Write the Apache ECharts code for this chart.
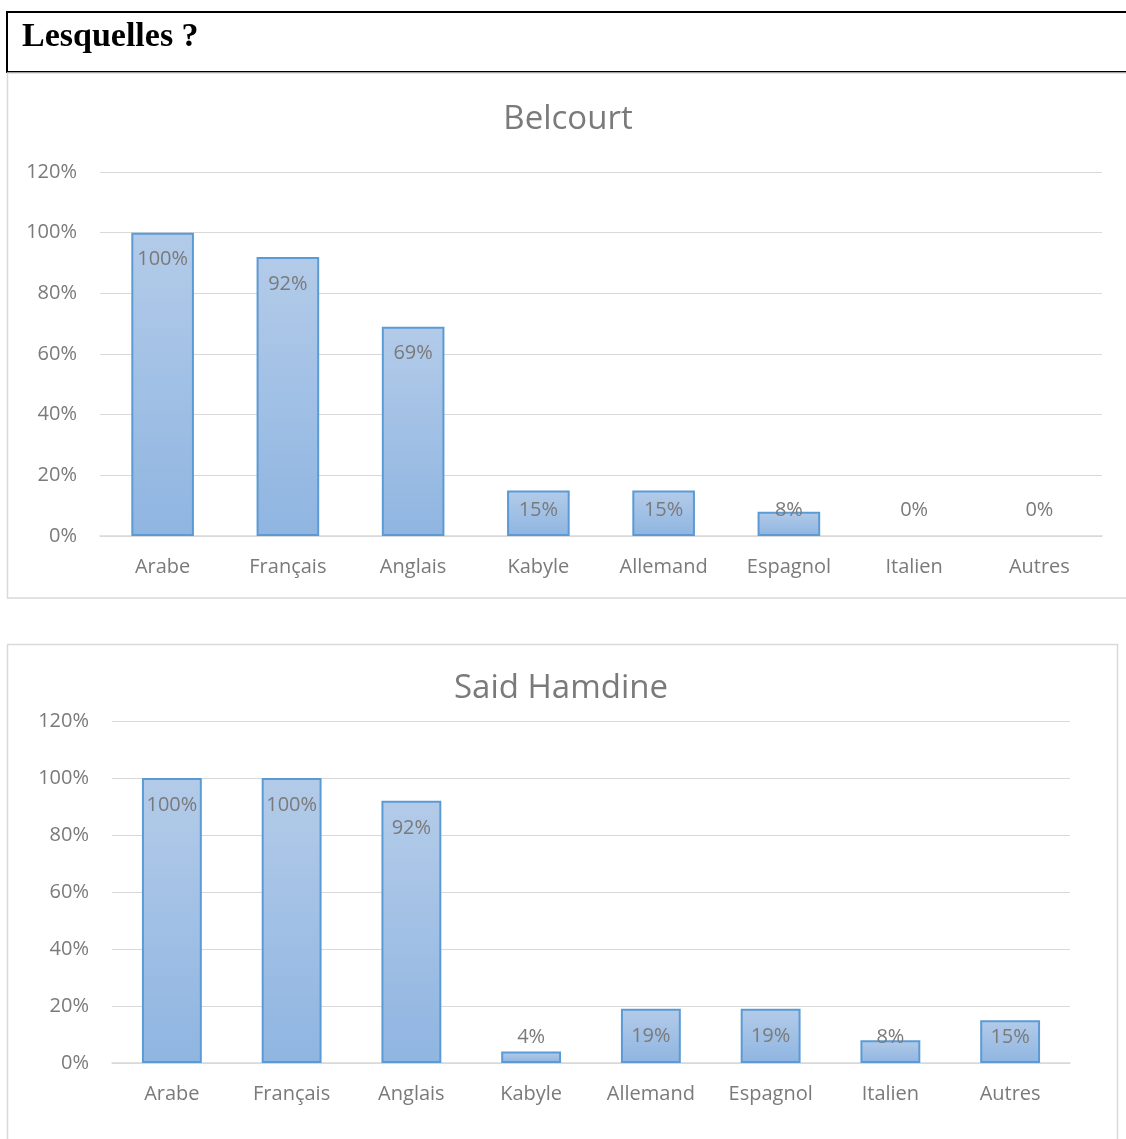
<!DOCTYPE html>
<html>
<head>
<meta charset="utf-8">
<title>Lesquelles ?</title>
<script src="https://cdn.jsdelivr.net/npm/echarts@6/dist/echarts.min.js"></script>
<style>
  html, body { margin: 0; padding: 0; background: #fff; }
  #chart { width: 1126px; height: 1139px; }
</style>
</head>
<body>
<div id="chart"></div>
<script>
// Languages spoken, share of respondents (%) per neighbourhood
const categories = ['Arabe', 'Français', 'Anglais', 'Kabyle', 'Allemand', 'Espagnol', 'Italien', 'Autres'];
const belcourtValues = [100, 92, 69, 15, 15, 8, 0, 0];
const saidHamdineValues = [100, 100, 92, 4, 19, 19, 8, 15];
const yTicks = [0, 20, 40, 60, 80, 100, 120];

const headerText = 'Lesquelles ?';
const titleTop = 'Belcourt';
const titleBottom = 'Said Hamdine';

const TEXT = '#7a7a7a';
const GRID = '#d9d9d9';
const FONT = '"Open Sans", "Noto Sans", sans-serif';
const FS = 20;

const barFill = new echarts.graphic.LinearGradient(0, 0, 0, 1, [
  { offset: 0, color: '#b3cbe9' },
  { offset: 1, color: '#8fb5e1' }
]);

function barData(values) {
  return values.map(v => ({
    value: v,
    itemStyle: { borderWidth: v === 0 ? 0 : 2 }
  }));
}

// Label sits inside the bar top, but never lower than just above the axis
function insideEndLayout(params) {
  const r = params.rect;
  const top = r.y;
  const base = r.y + r.height;
  const cy = Math.min(top + 27, base - 26);
  return { x: r.x + r.width / 2, y: cy, align: 'center', verticalAlign: 'middle' };
}

function barSeries(values, idx) {
  return {
    type: 'bar',
    xAxisIndex: idx,
    yAxisIndex: idx,
    data: barData(values),
    barWidth: '50%',
    itemStyle: { color: barFill, borderColor: '#5b9bd5', borderWidth: 2 },
    label: {
      show: true,
      position: 'insideTop',
      formatter: p => p.value + '%',
      color: TEXT,
      fontFamily: FONT,
      fontSize: FS
    },
    labelLayout: insideEndLayout,
    silent: true,
    animation: false
  };
}

function xAxis(idx) {
  return {
    type: 'category',
    gridIndex: idx,
    data: categories,
    axisTick: { show: false },
    axisLine: { show: true, lineStyle: { color: GRID, width: 1.5 } },
    axisLabel: { color: TEXT, fontFamily: FONT, fontSize: FS, margin: 21 }
  };
}

function yAxis(idx) {
  return {
    type: 'value',
    gridIndex: idx,
    min: yTicks[0],
    max: yTicks[yTicks.length - 1],
    interval: yTicks[1] - yTicks[0],
    axisLine: { show: false },
    axisTick: { show: false },
    splitLine: { lineStyle: { color: GRID, width: 1 } },
    axisLabel: { color: TEXT, fontFamily: FONT, fontSize: FS, margin: 23, formatter: '{value}%' }
  };
}

const chart = echarts.init(document.getElementById('chart'), null, { renderer: 'canvas' });

chart.setOption({
  backgroundColor: '#ffffff',
  animation: false,
  graphic: [
    // header box
    {
      type: 'rect', z: 0,
      shape: { x: 7, y: 12, width: 1130, height: 60 },
      style: { fill: '#fff', stroke: '#000', lineWidth: 2 }
    },
    {
      type: 'text', z: 1,
      left: 22, top: 20,
      style: {
        text: headerText,
        fill: '#000',
        font: 'bold 34px "Liberation Serif", "DejaVu Serif", serif'
      }
    },
    // chart frames
    {
      type: 'rect', z: 0,
      shape: { x: 7.5, y: 73, width: 1130, height: 525 },
      style: { fill: 'none', stroke: GRID, lineWidth: 1.5 }
    },
    {
      type: 'rect', z: 0,
      shape: { x: 7.5, y: 644.5, width: 1110, height: 520 },
      style: { fill: 'none', stroke: GRID, lineWidth: 1.5 }
    }
  ],
  title: [
    {
      text: titleTop,
      left: 563, top: 98, textAlign: 'center',
      textStyle: { color: TEXT, fontFamily: FONT, fontSize: 33, fontWeight: 'normal' }
    },
    {
      text: titleBottom,
      left: 556, top: 667, textAlign: 'center',
      textStyle: { color: TEXT, fontFamily: FONT, fontSize: 33, fontWeight: 'normal' }
    }
  ],
  grid: [
    { left: 100, top: 172, width: 1002, height: 364 },
    { left: 112, top: 721, width: 958, height: 342 }
  ],
  xAxis: [xAxis(0), xAxis(1)],
  yAxis: [yAxis(0), yAxis(1)],
  series: [barSeries(belcourtValues, 0), barSeries(saidHamdineValues, 1)]
});
</script>
</body>
</html>
